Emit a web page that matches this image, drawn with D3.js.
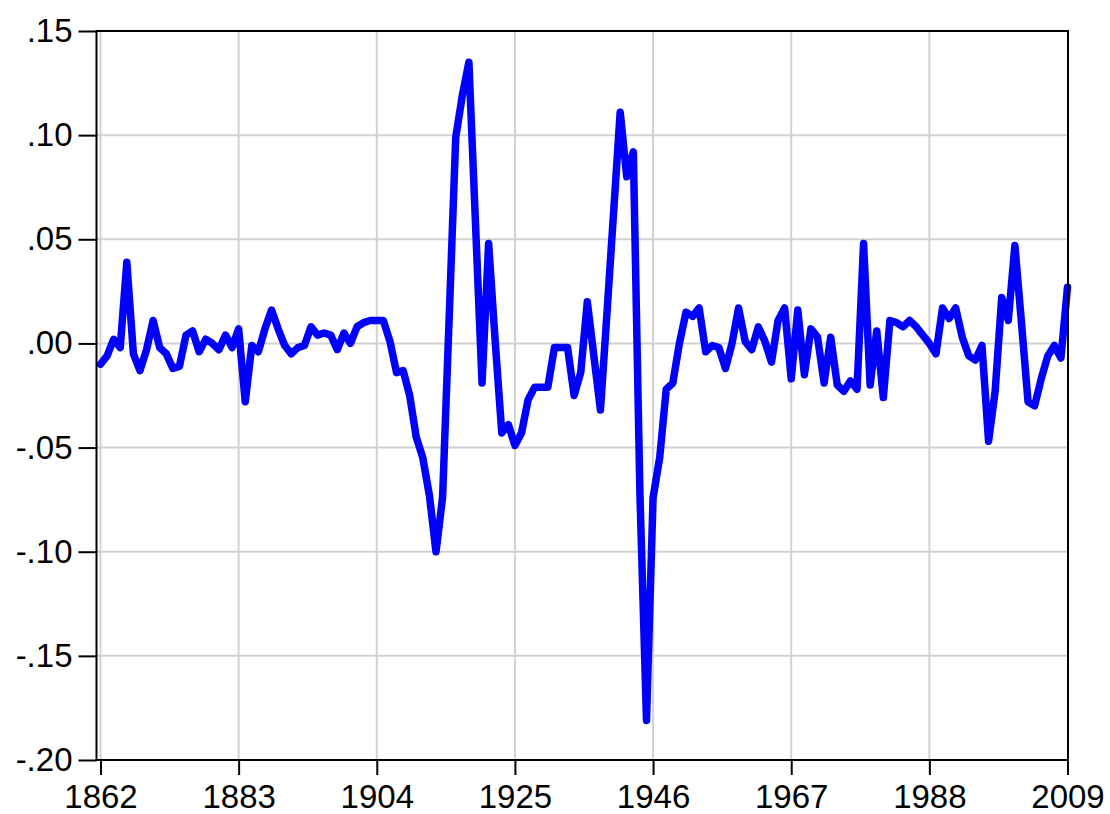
<!DOCTYPE html>
<html>
<head>
<meta charset="utf-8">
<title>series</title>
<script src="https://cdn.jsdelivr.net/npm/d3@7/dist/d3.min.js"></script>
<style>
body{margin:0;background:#fff;}
.axis text{font-family:Arial,"Liberation Sans",sans-serif;font-size:33px;fill:#000;}
.axis line{stroke:#000;stroke-width:2px;}
.axis path{display:none;}
.grid line{stroke:#d2d2d2;stroke-width:2px;}
.series{fill:none;stroke:#0000ff;stroke-width:7.5px;stroke-linejoin:round;stroke-linecap:round;}
.frame{fill:none;stroke:#000;stroke-width:2px;}
</style>
</head>
<body>
<div id="chart"></div>
<script>
// annual values, 1862 .. 2009
var firstYear = 1862;
var values = [
	-0.010, -0.006, 0.002, -0.002, 0.039, -0.005, -0.013, -0.003, 0.011, -0.002,   // 1862-1871
	-0.005, -0.012, -0.011, 0.004, 0.006, -0.004, 0.002, 0.000, -0.003, 0.004,     // 1872-1881
	-0.002, 0.007, -0.028, -0.001, -0.004, 0.007, 0.016, 0.007, -0.001, -0.005,    // 1882-1891
	-0.002, -0.001, 0.008, 0.004, 0.005, 0.004, -0.003, 0.005, 0.000, 0.008,       // 1892-1901
	0.010, 0.011, 0.011, 0.011, 0.001, -0.014, -0.013, -0.025, -0.045, -0.055,     // 1902-1911
	-0.073, -0.100, -0.074, 0.012, 0.099, 0.119, 0.135, 0.058, -0.019, 0.048,      // 1912-1921
	0.001, -0.043, -0.039, -0.049, -0.043, -0.027, -0.021, -0.021, -0.021, -0.002, // 1922-1931
	-0.002, -0.002, -0.025, -0.014, 0.020, -0.006, -0.032, 0.015, 0.063, 0.111,    // 1932-1941
	0.080, 0.092, -0.072, -0.181, -0.074, -0.055, -0.022, -0.019, 0.000, 0.015,    // 1942-1951
	0.013, 0.017, -0.004, -0.001, -0.002, -0.012, 0.000, 0.017, 0.001, -0.003,     // 1952-1961
	0.008, 0.001, -0.009, 0.011, 0.017, -0.017, 0.016, -0.015, 0.007, 0.003,       // 1962-1971
	-0.019, 0.003, -0.020, -0.023, -0.018, -0.022, 0.048, -0.020, 0.006, -0.026,   // 1972-1981
	0.011, 0.010, 0.008, 0.011, 0.008, 0.004, 0.000, -0.005, 0.017, 0.012,         // 1982-1991
	0.017, 0.003, -0.006, -0.008, -0.001, -0.047, -0.023, 0.022, 0.011, 0.047,     // 1992-2001
	0.010, -0.028, -0.030, -0.017, -0.006, -0.001, -0.007, 0.027                   // 2002-2009
];
var years = values.map(function(d, i){ return firstYear + i; });
var xTicks = [1862, 1883, 1904, 1925, 1946, 1967, 1988, 2009];
var yTicks = [0.15, 0.10, 0.05, 0.00, -0.05, -0.10, -0.15, -0.20];
var yLabels = [".15", ".10", ".05", ".00", "-.05", "-.10", "-.15", "-.20"];

(function(){
	var W = 1110, H = 814;
	var frame = {left: 96.5, right: 1068, top: 31, bottom: 760};

	var svg = d3.select("#chart").append("svg")
		.attr("width", W)
		.attr("height", H);

	var x = d3.scaleLinear()
		.domain([firstYear, years[years.length - 1]])
		.range([100.5, 1067.5]);
	var y = d3.scaleLinear()
		.domain([-0.20, 0.15])
		.range([frame.bottom, frame.top]);

	// grid
	var grid = svg.append("g").attr("class", "grid");
	grid.selectAll("line.v").data(xTicks.slice(0, -1))
		.enter().append("line").attr("class", "v")
			.attr("x1", function(d){ return x(d); })
			.attr("x2", function(d){ return x(d); })
			.attr("y1", frame.top).attr("y2", frame.bottom);
	grid.selectAll("line.h").data(yTicks.slice(1, -1))
		.enter().append("line").attr("class", "h")
			.attr("x1", frame.left).attr("x2", frame.right)
			.attr("y1", function(d){ return y(d); })
			.attr("y2", function(d){ return y(d); });

	// series
	var line = d3.line()
		.x(function(d, i){ return x(years[i]); })
		.y(function(d){ return y(d); });
	svg.append("path")
		.datum(values)
		.attr("class", "series")
		.attr("d", line);

	svg.append("rect")
		.attr("class", "frame")
		.attr("x", frame.left).attr("y", frame.top)
		.attr("width", frame.right - frame.left)
		.attr("height", frame.bottom - frame.top);

	// axes
	svg.append("g")
		.attr("class", "axis")
		.attr("transform", "translate(" + frame.left + ",0)")
		.call(d3.axisLeft(y)
			.tickValues(yTicks)
			.tickSize(18)
			.tickPadding(6)
			.tickFormat(function(d, i){ return yLabels[i]; }));

	svg.append("g")
		.attr("class", "axis")
		.attr("transform", "translate(0," + frame.bottom + ")")
		.call(d3.axisBottom(x)
			.tickValues(xTicks)
			.tickSize(15)
			.tickPadding(10)
			.tickFormat(d3.format("d")));
})();
</script>
</body>
</html>
